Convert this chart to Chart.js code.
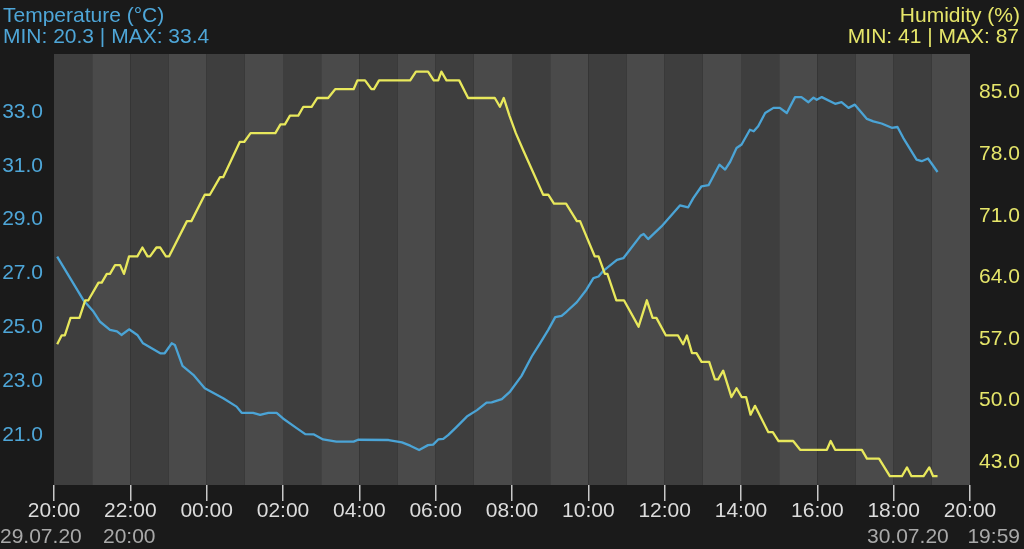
<!DOCTYPE html>
<html>
<head>
<meta charset="utf-8">
<title>Temperature / Humidity</title>
<script src="https://cdn.jsdelivr.net/npm/chart.js@4/dist/chart.umd.min.js"></script>
<style>
  html, body { margin: 0; padding: 0; background: #1a1a1a; }
  #wrap { position: relative; width: 1024px; height: 549px; overflow: hidden;
          font-family: "Liberation Sans", Arial, sans-serif; }
  #wrap canvas { position: absolute; left: 0; top: 0; }
  .lbl { position: absolute; font-size: 21px; line-height: 22px; white-space: nowrap; }
  .temp { color: #4ea6d8; }
  .hum { color: #e6e66a; text-align: right; }
  .date { color: #a9a9a9; }
</style>
</head>
<body>
<div id="wrap">
  <canvas id="chart" width="1024" height="549"></canvas>
  <div class="lbl temp" style="left:3px;top:4px">Temperature (°C)</div>
  <div class="lbl temp" style="left:3px;top:25px">MIN: 20.3 | MAX: 33.4</div>
  <div class="lbl hum" style="right:4px;top:4px">Humidity (%)</div>
  <div class="lbl hum" style="right:5px;top:25px">MIN: 41 | MAX: 87</div>
  <div class="lbl date" style="left:0px;top:525px">29.07.20</div>
  <div class="lbl date" style="left:103px;top:525px">20:00</div>
  <div class="lbl date" style="left:867px;top:525px">30.07.20</div>
  <div class="lbl date" style="right:4px;top:525px">19:59</div>
</div>
<script>
// minutes since 29.07.20 20:00
const xTickLabels = ['20:00', '22:00', '00:00', '02:00', '04:00', '06:00', '08:00',
                     '10:00', '12:00', '14:00', '16:00', '18:00', '20:00'];
const tempTicks = [21, 23, 25, 27, 29, 31, 33];
const humTicks = [43, 50, 57, 64, 71, 78, 85];

const tempTimes = [5, 46, 62, 72, 88, 99, 106, 118, 131, 140, 167, 174, 185, 190, 202,
  219, 237, 266, 287, 295, 313, 324, 337, 350, 360, 382, 395, 408, 423, 444,
  471, 478, 526, 547, 560, 574, 588, 596, 604, 612, 620, 633, 649, 665, 680,
  688, 704, 717, 735, 751, 764, 777, 788, 798, 806, 822, 837, 848, 856, 864,
  885, 895, 922, 927, 934, 955, 984, 997, 1005, 1018, 1029, 1046, 1055, 1063, 1073,
  1081, 1094, 1100, 1107, 1118, 1131, 1141, 1152, 1165, 1175, 1186, 1194, 1199, 1207, 1228,
  1238, 1249, 1259, 1278, 1288, 1301, 1317, 1326, 1335, 1356, 1364, 1374, 1389];
const tempValues = [27.48, 25.87, 25.44, 25.07, 24.76, 24.70, 24.57, 24.78, 24.57, 24.26,
  23.89, 23.89, 24.26, 24.2, 23.42, 23.09, 22.59, 22.22, 21.91, 21.68,
  21.68, 21.60, 21.68, 21.68, 21.47, 21.1, 20.89, 20.88, 20.69, 20.61,
  20.61, 20.68, 20.67, 20.58, 20.46, 20.30, 20.48, 20.50, 20.69, 20.71,
  20.86, 21.16, 21.54, 21.78, 22.06, 22.07, 22.19, 22.47, 23.05, 23.77,
  24.26, 24.76, 25.23, 25.28, 25.44, 25.79, 26.25, 26.68, 26.74, 26.96,
  27.36, 27.42, 28.25, 28.32, 28.13, 28.60, 29.38, 29.31, 29.65, 30.09,
  30.13, 30.89, 30.71, 31.0, 31.51, 31.64, 32.19, 32.13, 32.32, 32.81,
  33.0, 33.0, 32.81, 33.4, 33.4, 33.21, 33.38, 33.3, 33.4, 33.15,
  33.21, 33.0, 33.12, 32.59, 32.5, 32.42, 32.26, 32.29, 31.89, 31.08,
  31.02, 31.12, 30.62];

const humTimes = [5, 12, 17, 26, 40, 49, 54, 70, 75, 83, 88, 96, 104, 110, 118,
  131, 139, 147, 151, 161, 167, 176, 181, 209, 216, 237, 245, 261, 266, 292,
  299, 309, 348, 356, 363, 371, 384, 392, 405, 414, 431, 442, 471, 477, 489,
  499, 503, 511, 560, 569, 588, 597, 604, 609, 617, 637, 651, 693, 701, 707,
  716, 726, 738, 769, 777, 786, 805, 822, 827, 850, 856, 866, 870, 884, 896,
  919, 932, 941, 947, 962, 981, 989, 995, 1003, 1010, 1018, 1030, 1039, 1044, 1052,
  1065, 1073, 1081, 1088, 1095, 1102, 1123, 1130, 1139, 1162, 1173, 1215, 1221, 1228, 1270,
  1278, 1297, 1314, 1333, 1341, 1348, 1367, 1376, 1382, 1389];
const humValues = [56, 57, 57, 59, 59, 61, 61, 63, 63, 64, 64, 65, 65, 64, 66,
  66, 67, 66, 66, 67, 67, 66, 66, 70, 70, 73, 73, 75, 75, 79,
  79, 80, 80, 81, 81, 82, 82, 83, 83, 84, 84, 85, 85, 86, 86,
  85, 85, 86, 86, 87, 87, 86, 86, 87, 86, 86, 84, 84, 83, 84,
  82, 80, 78, 73, 73, 72, 72, 70, 70, 66, 66, 64, 64, 61, 61,
  58, 61, 59, 59, 57, 57, 56, 57, 55, 55, 54, 54, 52, 52, 53,
  50, 51, 50, 50, 48, 49, 46, 46, 45, 45, 44, 44, 45, 44, 44,
  43, 43, 41, 41, 42, 41, 41, 42, 41, 41];

// hourly background stripes, drawn through the x scale
const stripes = {
    id: 'stripes',
    beforeDatasetsDraw(chart) {
        const { ctx, chartArea, scales } = chart;
        ctx.save();
        for (let h = 0; h < 24; h++) {
            const x0 = scales.x.getPixelForValue(h * 60);
            const x1 = scales.x.getPixelForValue((h + 1) * 60);
            ctx.fillStyle = h % 2 === 0 ? '#3e3e3e' : '#4a4a4a';
            ctx.fillRect(x0, chartArea.top, x1 - x0, chartArea.bottom - chartArea.top);
        }
        ctx.restore();
    }
};

const font = { family: '"Liberation Sans", Arial, sans-serif', size: 21 };

new Chart(document.getElementById('chart'), {
    type: 'line',
    data: {
        datasets: [{
            label: 'Temperature',
            data: tempTimes.map((t, i) => ({ x: t, y: tempValues[i] })),
            yAxisID: 'yT',
            borderColor: '#4ba4d6',
            borderWidth: 2.3,
            pointRadius: 0,
            tension: 0,
            borderJoinStyle: 'round',
            order: 2
        }, {
            label: 'Humidity',
            data: humTimes.map((t, i) => ({ x: t, y: humValues[i] })),
            yAxisID: 'yH',
            borderColor: '#e8e85c',
            borderWidth: 2.3,
            pointRadius: 0,
            tension: 0,
            borderJoinStyle: 'round',
            order: 1
        }]
    },
    options: {
        responsive: false,
        animation: false,
        events: [],
        layout: { padding: { top: 54, left: 0, right: 0, bottom: 0 } },
        plugins: { legend: { display: false }, tooltip: { enabled: false } },
        scales: {
            x: {
                type: 'linear',
                min: 0,
                max: 1440,
                afterFit: s => { s.height = 64; },
                afterBuildTicks: s => { s.ticks = xTickLabels.map((_, i) => ({ value: i * 120 })); },
                border: { display: false },
                grid: { drawOnChartArea: false, drawTicks: true, tickLength: 16, color: '#c8c8c8', lineWidth: 1.5 },
                ticks: {
                    color: '#dcdcdc',
                    font: font,
                    padding: -2,
                    maxRotation: 0,
                    autoSkip: false,
                    callback: (v, i) => xTickLabels[i]
                }
            },
            yT: {
                position: 'left',
                min: 19,
                max: 35,
                afterFit: s => { s.width = 54; },
                afterBuildTicks: s => { s.ticks = tempTicks.map(v => ({ value: v })); },
                border: { display: false },
                grid: { display: false, drawTicks: false },
                ticks: {
                    color: '#4ea6d8',
                    font: font,
                    padding: 11,
                    labelOffset: 4,
                    callback: v => Number(v).toFixed(1)
                }
            },
            yH: {
                position: 'right',
                min: 40,
                max: 89,
                afterFit: s => { s.width = 54; },
                afterBuildTicks: s => { s.ticks = humTicks.map(v => ({ value: v })); },
                border: { display: false },
                grid: { display: false, drawTicks: false },
                ticks: {
                    color: '#e6e66a',
                    font: font,
                    padding: 9,
                    labelOffset: 3.5,
                    callback: v => Number(v).toFixed(1)
                }
            }
        }
    },
    plugins: [stripes]
});
</script>
</body>
</html>
